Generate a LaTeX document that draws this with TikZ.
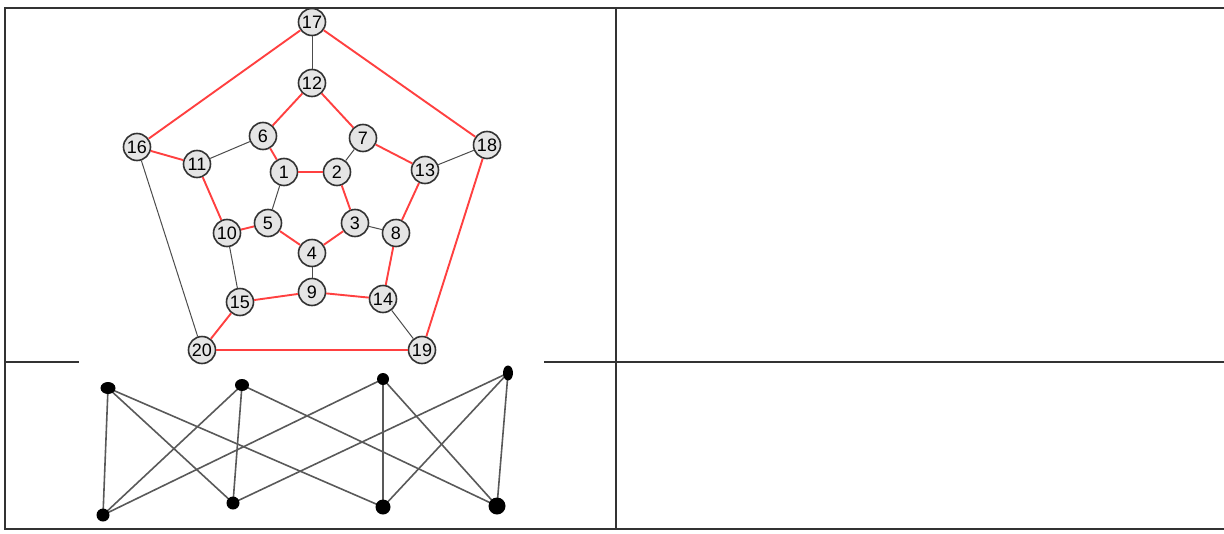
\documentclass[tikz,border=0pt]{standalone}
\usepackage{fontspec}
\setmainfont{Liberation Sans}
\usetikzlibrary{shapes.geometric}
\pgfdeclarelayer{bg}
\pgfsetlayers{bg,main}
\begin{document}
\begin{tikzpicture}[x=1pt,y=-1pt,
  vtx/.style={circle,draw=black!80,line width=1.6pt,fill=black!10,minimum size=27pt,inner sep=0pt,font=\fontsize{18}{18}\selectfont},
  redge/.style={draw=red!75,line width=1.9pt},
  gedge/.style={draw=black!70,line width=1pt},
  frame/.style={draw=black!80,line width=1.8pt},
  dot/.style={ellipse,fill=black,inner sep=0pt,minimum width=#1,minimum height=#1},
  bedge/.style={draw=black!65,line width=1.6pt}]
\useasboundingbox (0,0) rectangle (1224,533);
% table frame
\coordinate (tl) at (5,8);
\coordinate (tr) at (1224,8);
\coordinate (bl) at (5,529);
\coordinate (br) at (1224,529);
\coordinate (ml) at (5,362);
\coordinate (ma) at (79,362);
\coordinate (mb) at (544,362);
\coordinate (mr) at (1224,362);
\coordinate (vt) at (616,8);
\coordinate (vb) at (616,529);
\draw[frame] (tr) -- (tl) -- (bl) -- (br);
\draw[frame] (ml) -- (ma);
\draw[frame] (mb) -- (mr);
\draw[frame] (vt) -- (vb);
% dodecahedron graph
\node[vtx] (n17) at (312,22) {17};
\node[vtx] (n12) at (312,83) {12};
\node[vtx] (n6) at (263,136) {6};
\node[vtx] (n7) at (363,138) {7};
\node[vtx] (n16) at (137,147) {16};
\node[vtx] (n11) at (197,164) {11};
\node[vtx] (n1) at (284,172) {1};
\node[vtx] (n2) at (337,172) {2};
\node[vtx] (n13) at (425,170) {13};
\node[vtx] (n18) at (487,145) {18};
\node[vtx] (n10) at (227,233) {10};
\node[vtx] (n5) at (268,223) {5};
\node[vtx] (n3) at (355,223) {3};
\node[vtx] (n8) at (396,233) {8};
\node[vtx] (n4) at (312,253) {4};
\node[vtx] (n9) at (312,292) {9};
\node[vtx] (n15) at (240,302) {15};
\node[vtx] (n14) at (383,299) {14};
\node[vtx] (n20) at (202,350) {20};
\node[vtx] (n19) at (422,350) {19};
\foreach \a/\b in {17/16,17/18,12/6,12/7,16/11,6/1,1/2,7/13,2/3,11/10,10/5,5/4,4/3,13/8,18/19,8/14,15/9,9/14,15/20,20/19}
  \path[redge] (n\a) -- (n\b);
\foreach \a/\b in {17/12,11/6,2/7,13/18,1/5,3/8,4/9,10/15,16/20,14/19}
  \path[gedge] (n\a) -- (n\b);
% bipartite graph
\node[dot=12pt,minimum width=15pt] (a) at (108,388) {};
\node[dot=12pt,minimum width=14pt] (b) at (242,385) {};
\node[dot=12pt] (c) at (383,379) {};
\node[dot=10pt,minimum height=15pt] (d) at (508,373) {};
\node[dot=13pt] (e) at (103,515) {};
\node[dot=13pt] (f) at (233,503) {};
\node[dot=15pt] (g) at (383,507) {};
\node[dot=17pt] (h) at (497,506) {};
\begin{pgfonlayer}{bg}
\foreach \a/\b in {a/e,a/f,a/g,b/e,b/f,b/h,c/e,c/g,c/h,d/f,d/g,d/h}
  \path[bedge] (\a.center) -- (\b.center);
\end{pgfonlayer}
\end{tikzpicture}
\end{document}
